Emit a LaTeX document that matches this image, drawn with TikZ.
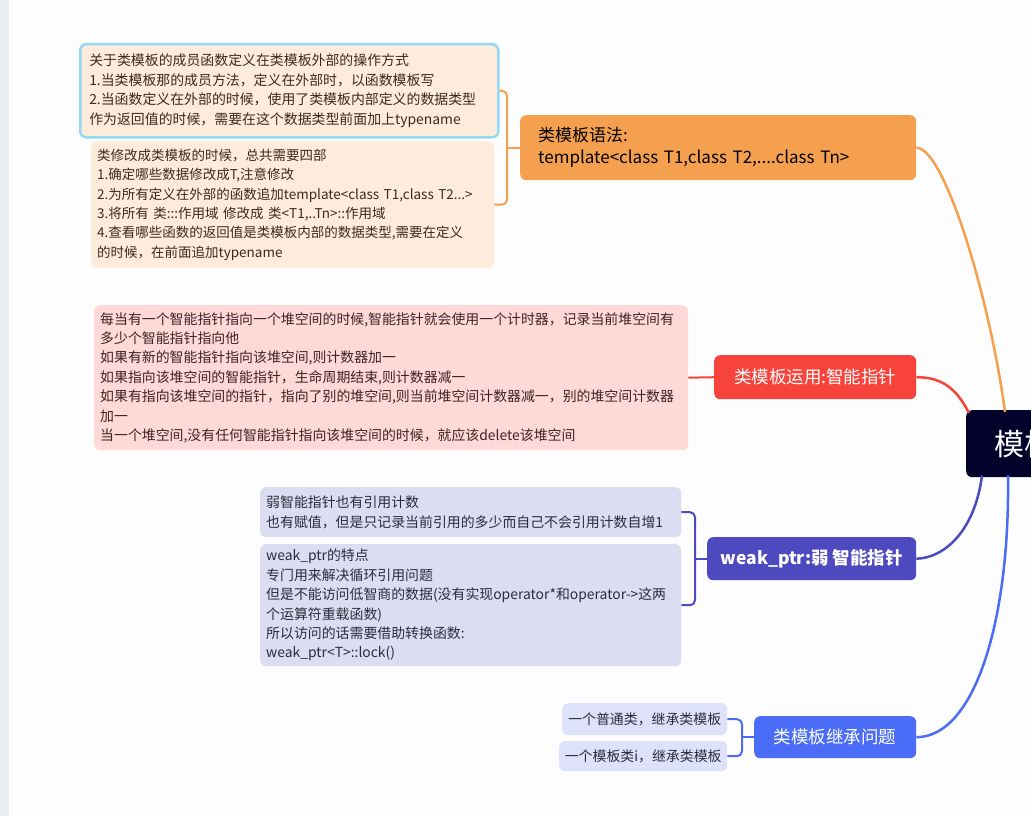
\documentclass[tikz,border=0pt]{standalone}
\usepackage{fontspec}
\setmainfont{Noto Sans CJK SC}
\usetikzlibrary{calc}
\definecolor{strip}{HTML}{EBEEF2}
\definecolor{bg}{HTML}{FDFDFD}
\definecolor{corange}{HTML}{F5A04E}
\definecolor{cred}{HTML}{F7433B}
\definecolor{cpurple}{HTML}{4D4ABF}
\definecolor{cblue}{HTML}{4A6CF7}
\definecolor{croot}{HTML}{02022B}
\definecolor{fpeach}{HTML}{FDEBDC}
\definecolor{fpink}{HTML}{FFD8D8}
\definecolor{flav}{HTML}{DCDCF2}
\definecolor{fsmall}{HTML}{DDE2FA}
\definecolor{bblue}{HTML}{95D8F6}
\definecolor{tpeach}{HTML}{3D2A1C}
\definecolor{tpink}{HTML}{3F2323}
\definecolor{tlav}{HTML}{2C2C3C}
\tikzset{
  note/.style={anchor=north west, rounded corners=6pt, align=left, inner ysep=0pt,
    font=\fontsize{13.9}{19.4}\selectfont},
  branch/.style={anchor=north west, rounded corners=6pt, inner sep=0pt},
  conn/.style={line width=2pt, rounded corners=5pt},
  curve/.style={line width=2.5pt},
}
\begin{document}
\begin{tikzpicture}[x=1pt,y=-1pt]
\useasboundingbox (0,0) rectangle (1031,816);
\clip (0,0) rectangle (1031,816);
\fill[bg] (0,0) rectangle (1031,816);
\fill[strip] (0,0) rectangle (9,816);

% notes
\node[note, fill=fpeach, draw=bblue, line width=2.5pt, text=tpeach, inner xsep=9pt,
  text width=400pt, minimum height=93pt] (na) at (79,43)
  {关于类模板的成员函数定义在类模板外部的操作方式\\
   1.当类模板那的成员方法，定义在外部时，以函数模板写\\
   2.当函数定义在外部的时候，使用了类模板内部定义的数据类型\\
   作为返回值的时候，需要在这个数据类型前面加上typename};
\node[note, fill=fpeach, text=tpeach, inner xsep=6pt, font=\fontsize{13.5}{19.3}\selectfont,
  text width=391pt, minimum height=127pt] (nb) at (91,141)
  {类修改成类模板的时候，总共需要四部\\
   1.确定哪些数据修改成T,注意修改\\
   2.为所有定义在外部的函数追加template<class T1,class T2...>\\
   3.将所有 类:::作用域 修改成 类<T1,..Tn>::作用域\\
   4.查看哪些函数的返回值是类模板内部的数据类型,需要在定义\\
   的时候，在前面追加typename};
\node[note, fill=fpink, text=tpink, inner xsep=6pt,
  text width=582pt, minimum height=145pt] (np) at (94,305)
  {每当有一个智能指针指向一个堆空间的时候,智能指针就会使用一个计时器，记录当前堆空间有\\
   多少个智能指针指向他\\
   如果有新的智能指针指向该堆空间,则计数器加一\\
   如果指向该堆空间的智能指针，生命周期结束,则计数器减一\\
   如果有指向该堆空间的指针，指向了别的堆空间,则当前堆空间计数器减一，别的堆空间计数器\\
   加一\\
   当一个堆空间,没有任何智能指针指向该堆空间的时候，就应该delete该堆空间};
\node[note, fill=flav, text=tlav, inner xsep=6pt,
  text width=409pt, minimum height=50pt] (nc) at (260,487)
  {弱智能指针也有引用计数\\
   也有赋值，但是只记录当前引用的多少而自己不会引用计数自增1};
\node[note, fill=flav, text=tlav, inner xsep=6pt,
  text width=409pt, minimum height=122pt] (nd) at (260,544)
  {weak\_ptr的特点\\
   专门用来解决循环引用问题\\
   但是不能访问低智商的数据(没有实现operator*和operator->这两\\
   个运算符重载函数)\\
   所以访问的话需要借助转换函数:\\
   weak\_ptr<T>::lock()};
\node[note, fill=fsmall, text=tlav, align=center, inner sep=0pt,
  minimum width=165pt, minimum height=32pt] (ne) at (562,703) {一个普通类，继承类模板};
\node[note, fill=fsmall, text=tlav, align=center, inner sep=0pt,
  minimum width=168pt, minimum height=30pt] (nf) at (559,741) {一个模板类i，继承类模板};

% branches
\node[branch, fill=corange, text=black, align=left, inner xsep=18pt, text width=360pt,
  minimum height=65pt, font=\fontsize{17}{22}\selectfont] (b1) at (520,115)
  {类模板语法:\\template<class T1,class T2,....class Tn>};
\node[branch, fill=cred, text=white, minimum width=202pt, minimum height=44pt,
  font=\fontsize{17.5}{20}\selectfont] (b2) at (714,355) {类模板运用:智能指针};
\node[branch, fill=cpurple, text=white, minimum width=209pt, minimum height=43pt,
  font=\fontsize{17.5}{20}\selectfont\bfseries] (b3) at (707,537) {weak\_ptr:弱 智能指针};
\node[branch, fill=cblue, text=white, minimum width=162pt, minimum height=42pt,
  font=\fontsize{17.5}{20}\selectfont] (b4) at (754,716) {类模板继承问题};

% bracket spines
\coordinate (so) at (507,0);
\coordinate (sp) at (695,0);
\coordinate (sb) at (742,0);

% connectors
\draw[conn, corange] (na.east) -| (so |- nb.east) -- (nb.east);
\draw[conn, corange] (b1.west) -- (b1.west -| so);
\draw[conn, cred] (np.east) -- (b2.west);
\draw[conn, cpurple] (nc.east) -| (sp |- nd.east) -- (nd.east);
\draw[conn, cpurple] (b3.west) -- (b3.west -| sp);
\draw[conn, cblue] (ne.east) -| (sb |- nf.east) -- (nf.east);
\draw[conn, cblue] (b4.west) -- (b4.west -| sb);

% root
\node[branch, fill=croot, text=white, minimum width=130pt, minimum height=67pt,
  font=\fontsize{30}{34}\selectfont, align=left, inner xsep=28pt, text width=80pt] (root) at (966,410) {模板};

% curves to root
\coordinate (ro) at ($(root.north west)+(39,2)$);
\coordinate (rr) at ($(root.north west)+(3,3)$);
\coordinate (rp) at ($(root.south west)+(16,-2)$);
\coordinate (rb) at ($(root.south west)+(42,-2)$);
\draw[curve, corange] (b1.east) .. controls (945,148) and (990,300) .. (ro);
\draw[curve, cred] (b2.east) .. controls (945,377) and (958,392) .. (rr);
\draw[curve, cpurple] (b3.east) .. controls (945,558) and (975,530) .. (rp);
\draw[curve, cblue] (b4.east) .. controls (975,737) and (1010,620) .. (rb);
\end{tikzpicture}
\end{document}
